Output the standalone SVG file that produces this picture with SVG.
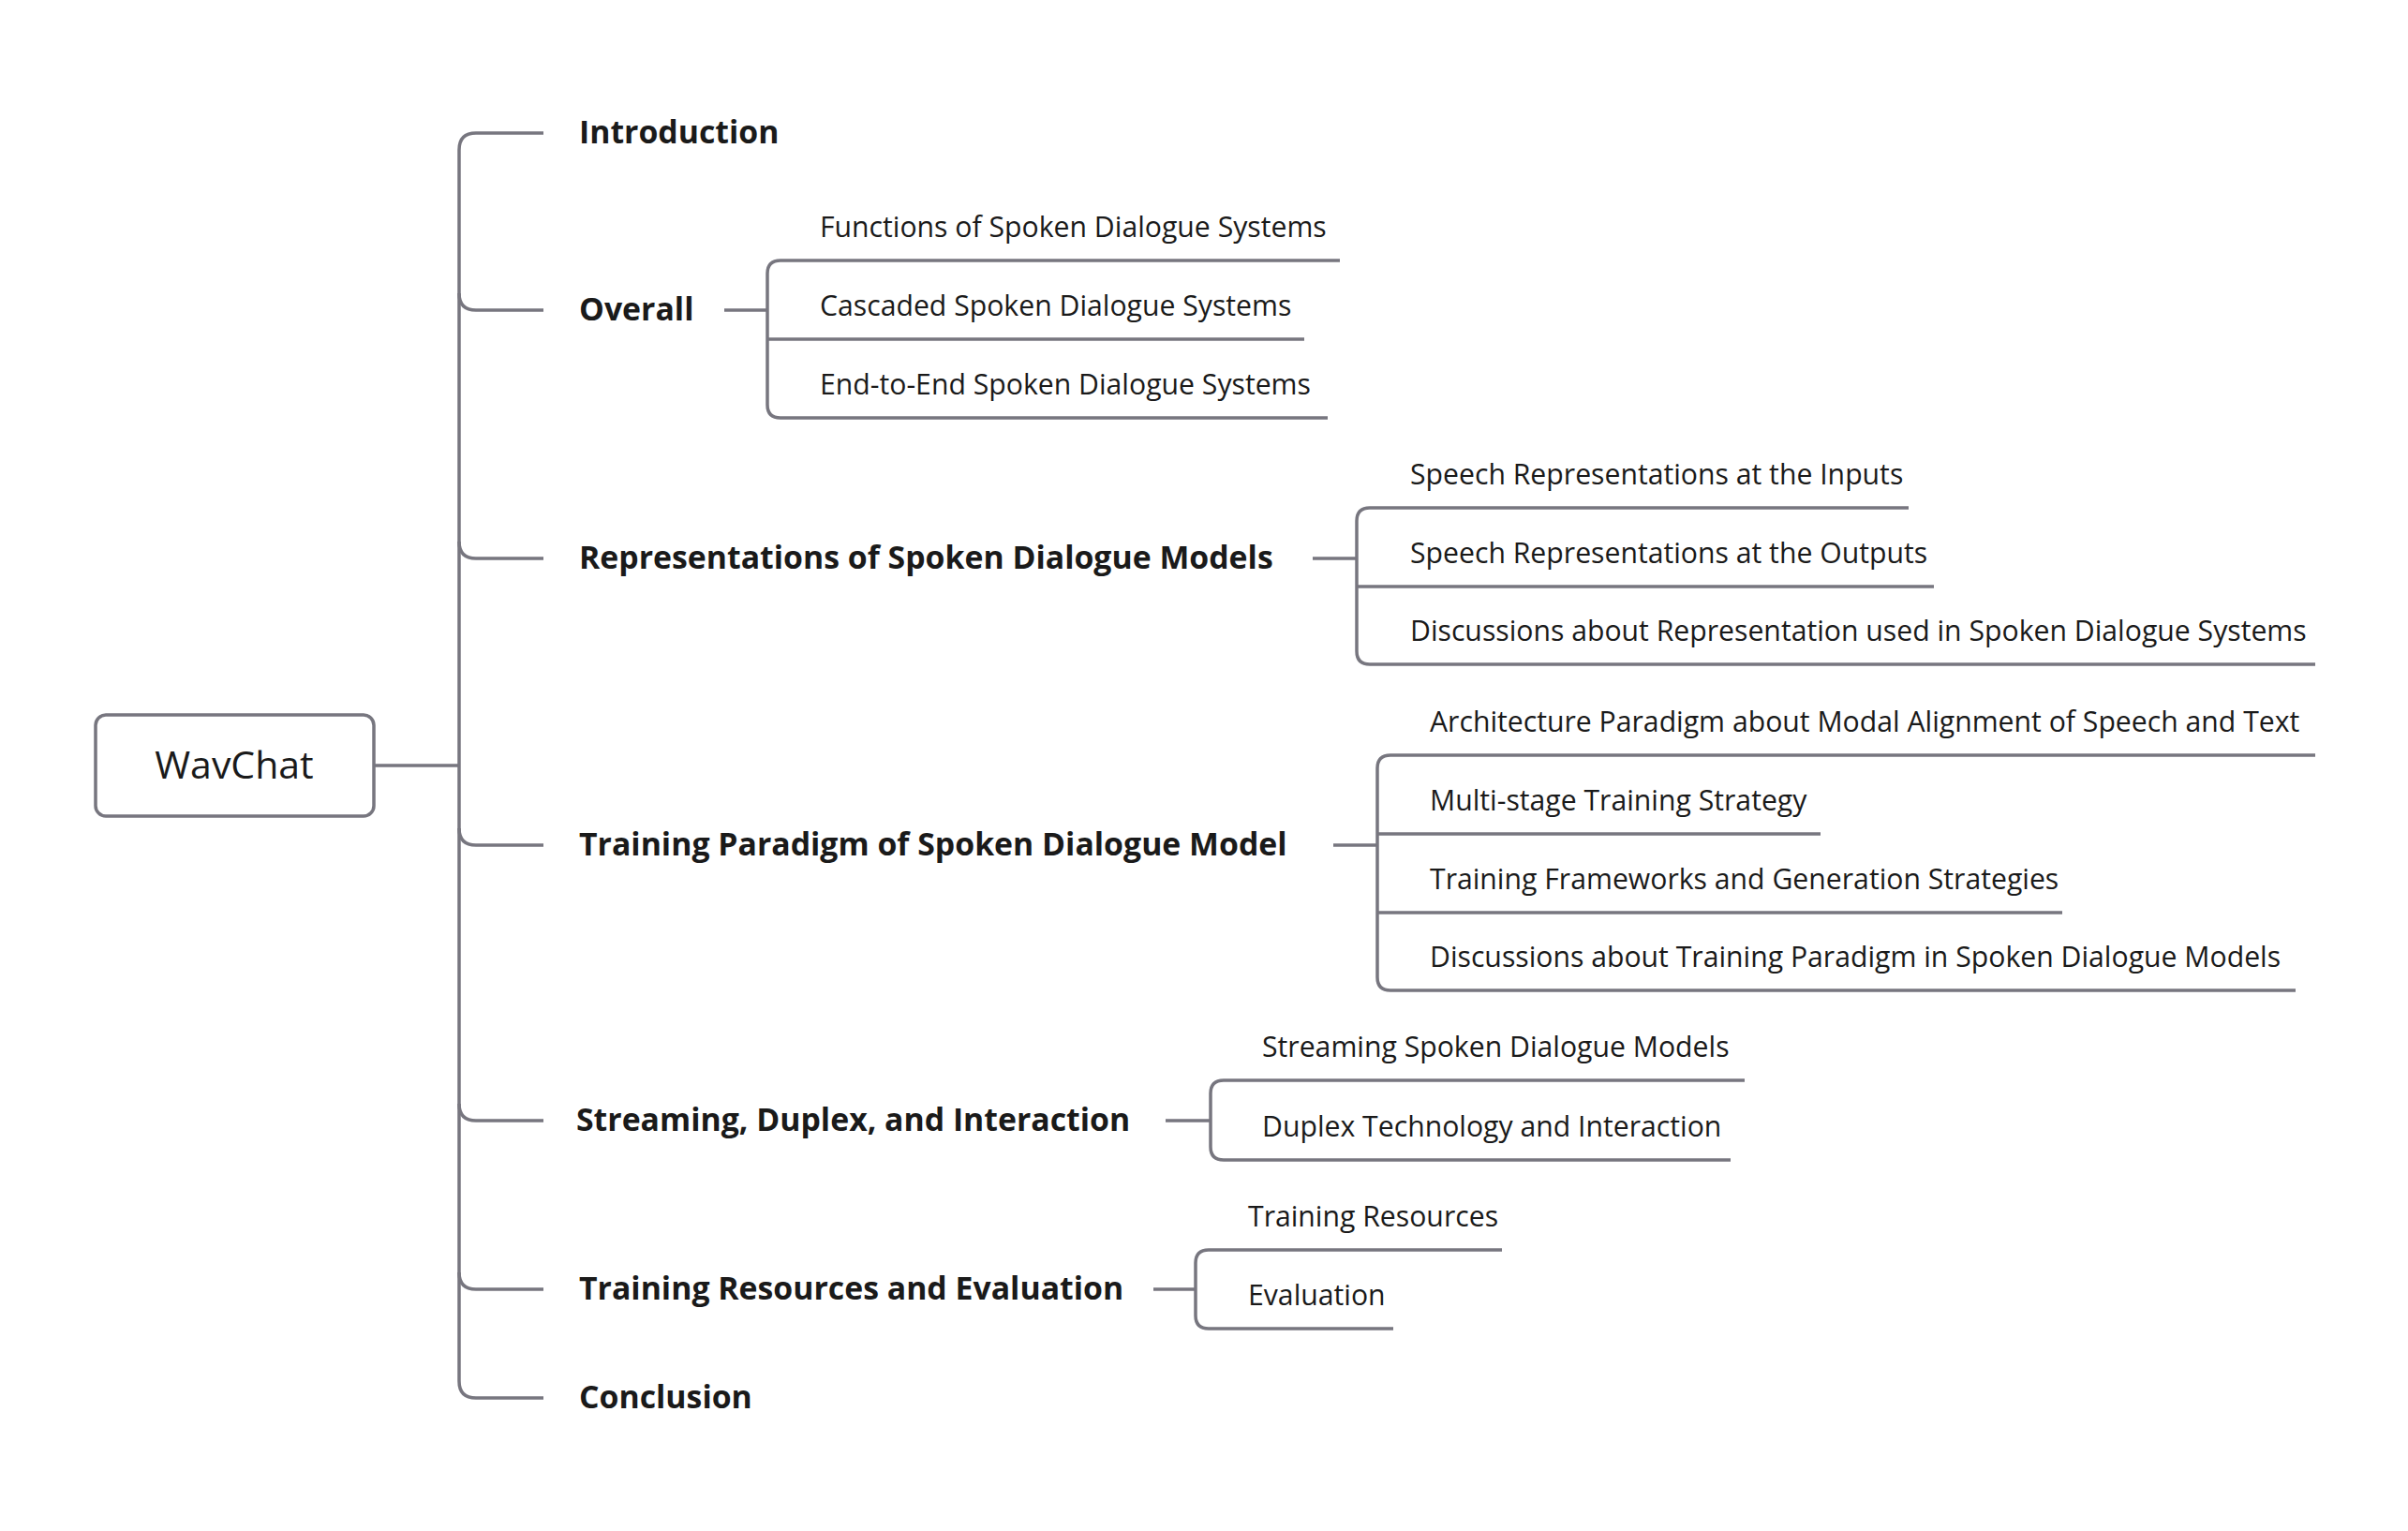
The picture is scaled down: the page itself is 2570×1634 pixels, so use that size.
<svg xmlns="http://www.w3.org/2000/svg" width="2570" height="1634" viewBox="0 0 2570 1634">
<style>
.ln{fill:none;stroke:#77767f;stroke-width:3.5;stroke-linecap:butt;stroke-linejoin:round}
.sec{font-family:"Open Sans","Noto Sans","Liberation Sans",sans-serif;font-weight:700;font-size:33.8px;fill:#1a1a1a}
.sub{font-family:"Open Sans","Noto Sans","Liberation Sans",sans-serif;font-weight:400;font-size:30.2px;fill:#1a1a1a}
.root{font-family:"Open Sans","Noto Sans","Liberation Sans",sans-serif;font-weight:400;font-size:41px;fill:#1a1a1a}
</style>
<rect width="2570" height="1634" fill="#ffffff"/>
<g id="connectors">
<path class="ln" d="M399,817 L490,817"/>
<path class="ln" d="M490,160 L490,1474"/>
<path class="ln" d="M490,160 Q490,142 508,142 L580,142"/>
<path class="ln" d="M490,313 Q490,331 508,331 L580,331"/>
<path class="ln" d="M490,578 Q490,596 508,596 L580,596"/>
<path class="ln" d="M490,884 Q490,902 508,902 L580,902"/>
<path class="ln" d="M490,1178 Q490,1196 508,1196 L580,1196"/>
<path class="ln" d="M490,1358 Q490,1376 508,1376 L580,1376"/>
<path class="ln" d="M490,1474 Q490,1492 508,1492 L580,1492"/>
<!-- Overall -->
<path class="ln" d="M773,331 L819,331"/>
<path class="ln" d="M819,292 L819,432"/>
<path class="ln" d="M819,292 Q819,278 833,278 L1430,278"/>
<path class="ln" d="M819,362 L1392,362"/>
<path class="ln" d="M819,432 Q819,446 833,446 L1417,446"/>
<!-- Representations -->
<path class="ln" d="M1401,596 L1448,596"/>
<path class="ln" d="M1448,556 L1448,695"/>
<path class="ln" d="M1448,556 Q1448,542 1462,542 L2037,542"/>
<path class="ln" d="M1448,626 L2064,626"/>
<path class="ln" d="M1448,695 Q1448,709 1462,709 L2471,709"/>
<!-- Training Paradigm -->
<path class="ln" d="M1423,902 L1470,902"/>
<path class="ln" d="M1470,820 L1470,1043"/>
<path class="ln" d="M1470,820 Q1470,806 1484,806 L2471,806"/>
<path class="ln" d="M1470,890 L1943,890"/>
<path class="ln" d="M1470,974 L2201,974"/>
<path class="ln" d="M1470,1043 Q1470,1057 1484,1057 L2450,1057"/>
<!-- Streaming -->
<path class="ln" d="M1244,1196 L1292,1196"/>
<path class="ln" d="M1292,1167 L1292,1224"/>
<path class="ln" d="M1292,1167 Q1292,1153 1306,1153 L1862,1153"/>
<path class="ln" d="M1292,1224 Q1292,1238 1306,1238 L1847,1238"/>
<!-- Training Resources -->
<path class="ln" d="M1231,1376 L1276,1376"/>
<path class="ln" d="M1276,1348 L1276,1404"/>
<path class="ln" d="M1276,1348 Q1276,1334 1290,1334 L1603,1334"/>
<path class="ln" d="M1276,1404 Q1276,1418 1290,1418 L1487,1418"/>
</g>
<g id="root">
<rect x="102" y="763" width="297" height="108" rx="11" fill="#ffffff" stroke="#77767f" stroke-width="3.5"/>
<text class="root" x="250" y="831" text-anchor="middle">WavChat</text>
</g>
<g id="introduction"><text class="sec" x="618" y="153">Introduction</text></g>
<g id="overall"><text class="sec" x="618" y="342">Overall</text></g>
<g id="overall-functions"><text class="sub" x="875" y="253">Functions of Spoken Dialogue Systems</text></g>
<g id="overall-cascaded"><text class="sub" x="875" y="337">Cascaded Spoken Dialogue Systems</text></g>
<g id="overall-e2e"><text class="sub" x="875" y="421">End-to-End Spoken Dialogue Systems</text></g>
<g id="representations"><text class="sec" x="618" y="607">Representations of Spoken Dialogue Models</text></g>
<g id="rep-inputs"><text class="sub" x="1505" y="517">Speech Representations at the Inputs</text></g>
<g id="rep-outputs"><text class="sub" x="1505" y="601">Speech Representations at the Outputs</text></g>
<g id="rep-discussions"><text class="sub" x="1505" y="684">Discussions about Representation used in Spoken Dialogue Systems</text></g>
<g id="training-paradigm"><text class="sec" x="618" y="913">Training Paradigm of Spoken Dialogue Model</text></g>
<g id="tp-architecture"><text class="sub" x="1526" y="781">Architecture Paradigm about Modal Alignment of Speech and Text</text></g>
<g id="tp-multistage"><text class="sub" x="1526" y="865">Multi-stage Training Strategy</text></g>
<g id="tp-frameworks"><text class="sub" x="1526" y="949">Training Frameworks and Generation Strategies</text></g>
<g id="tp-discussions"><text class="sub" x="1526" y="1032">Discussions about Training Paradigm in Spoken Dialogue Models</text></g>
<g id="streaming"><text class="sec" x="615" y="1207">Streaming, Duplex, and Interaction</text></g>
<g id="st-streaming"><text class="sub" x="1347" y="1128">Streaming Spoken Dialogue Models</text></g>
<g id="st-duplex"><text class="sub" x="1347" y="1213">Duplex Technology and Interaction</text></g>
<g id="resources"><text class="sec" x="618" y="1387">Training Resources and Evaluation</text></g>
<g id="res-training"><text class="sub" x="1332" y="1309">Training Resources</text></g>
<g id="res-evaluation"><text class="sub" x="1332" y="1393">Evaluation</text></g>
<g id="conclusion"><text class="sec" x="618" y="1503">Conclusion</text></g>
</svg>
